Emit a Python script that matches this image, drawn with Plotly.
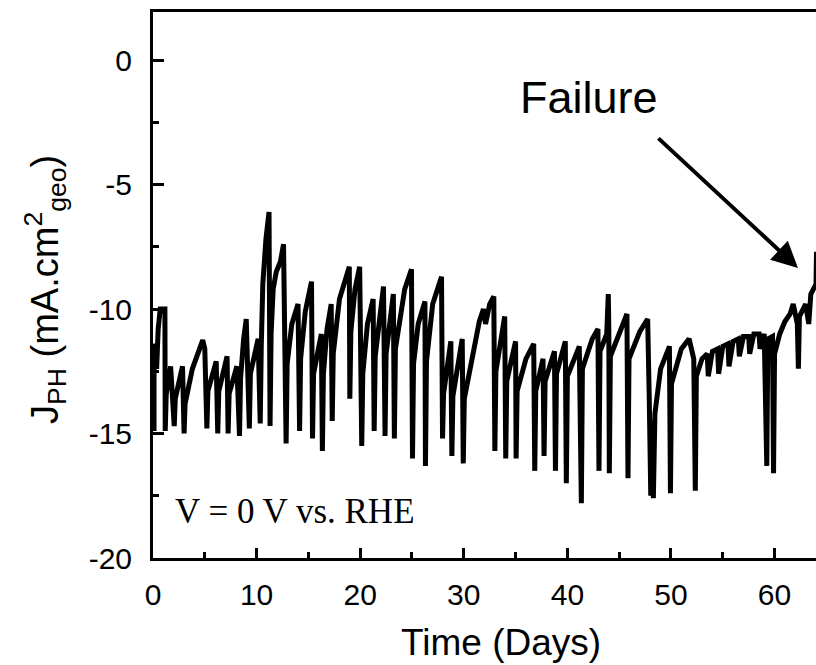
import plotly.graph_objects as go

# ---- data (time in days, photocurrent in mA/cm2) ----
time_days = [
    0.10, 0.10, 0.25, 0.35, 0.50, 0.70, 1.15, 1.18,
    1.28, 1.70, 2.05, 2.15, 2.85, 3.00,
    3.10, 3.80, 4.30, 4.80, 5.00, 5.20,
    5.30, 6.10, 6.25,
    6.35, 7.15, 7.25,
    7.35, 8.10, 8.35,
    8.45, 8.75, 9.00, 9.30,
    9.40, 10.15, 10.35,
    10.45, 10.60, 10.90, 11.20, 11.30,
    11.40, 11.60, 11.90, 12.30, 12.60, 12.85,
    12.95, 13.40, 14.00, 14.15,
    14.25, 14.70, 15.30, 15.40,
    15.50, 16.25, 16.35,
    16.45, 16.80, 17.20, 17.30,
    17.40, 18.00, 18.95, 19.00,
    19.10, 19.50, 19.95, 20.15,
    20.25, 20.70, 21.25, 21.35,
    21.45, 22.25, 22.40,
    22.50, 23.20, 23.30,
    23.40, 24.30, 24.95, 25.05,
    25.15, 25.60, 26.25, 26.30,
    26.40, 27.00, 27.85, 27.95,
    28.05, 28.75, 28.85,
    28.95, 29.85, 29.95,
    30.05, 30.80, 31.50, 31.90, 32.10, 32.50, 32.90, 33.00,
    33.10, 33.95, 34.05,
    34.15, 35.00, 35.05,
    35.15, 36.00, 36.75, 36.85,
    36.95, 37.65, 37.75,
    37.85, 38.75, 38.85,
    38.95, 39.80, 39.90,
    40.00, 41.15, 41.35,
    41.45, 42.40, 42.95, 43.05,
    43.15, 43.80, 43.95, 44.00, 44.05,
    44.15, 45.20, 45.75, 45.85,
    45.95, 47.00, 47.75, 47.90, 48.05, 48.15, 48.30,
    48.45, 49.00, 49.85, 49.95,
    50.05, 51.00, 51.75, 52.20, 52.35,
    52.45, 53.00, 53.50, 53.60, 54.00, 54.50, 54.60, 55.00, 55.50, 55.60,
    56.00, 56.50, 56.60, 57.00, 57.50, 57.60, 58.00, 58.50, 58.60, 59.00, 59.25,
    59.35, 59.80, 59.90,
    60.00, 60.50, 61.00, 61.50, 61.80, 62.20, 62.30, 62.40, 63.00, 63.30, 63.50, 64.00, 64.05,
]

j_ph = [
    -14.9, -12.0, -11.4, -12.4, -10.8, -10.0, -10.0, -14.9,
    -13.4, -12.3, -14.7, -13.6, -12.3, -15.0,
    -13.8, -12.4, -11.8, -11.25, -11.6, -14.8,
    -13.3, -12.1, -15.0,
    -13.3, -11.9, -15.0,
    -13.4, -12.3, -15.1,
    -12.8, -11.2, -10.4, -14.8,
    -12.6, -11.2, -14.6,
    -11.5, -9.0, -7.2, -6.1, -14.7,
    -11.0, -9.2, -8.5, -8.1, -7.4, -15.4,
    -12.2, -10.6, -9.8, -14.9,
    -12.0, -10.1, -8.9, -15.2,
    -12.6, -11.0, -15.7,
    -12.6, -10.8, -9.8, -14.5,
    -11.8, -9.6, -8.3, -13.6,
    -10.9, -9.2, -8.3, -15.5,
    -12.6, -10.6, -9.6, -14.9,
    -11.9, -9.1, -15.1,
    -11.8, -9.4, -15.2,
    -11.6, -9.2, -8.4, -16.0,
    -12.2, -10.6, -9.7, -16.3,
    -12.1, -9.8, -8.7, -15.2,
    -13.4, -11.3, -15.9,
    -13.5, -11.2, -16.2,
    -13.6, -12.0, -10.5, -10.0, -10.6, -9.8, -9.5, -15.7,
    -12.5, -10.3, -16.0,
    -12.9, -11.3, -16.0,
    -13.3, -12.0, -11.4, -16.5,
    -13.3, -12.0, -15.9,
    -12.9, -11.7, -16.5,
    -12.6, -11.3, -17.0,
    -12.7, -11.5, -17.8,
    -12.4, -11.2, -10.8, -16.5,
    -11.7, -11.0, -9.4, -10.8, -16.6,
    -11.9, -10.8, -10.2, -16.8,
    -12.0, -10.9, -10.4, -13.5, -17.5, -14.5, -17.6,
    -14.2, -12.4, -11.5, -17.4,
    -13.0, -11.6, -11.2, -12.0, -17.3,
    -12.7, -12.0, -11.8, -12.7, -11.7, -11.6, -12.6, -11.5, -11.4, -12.3,
    -11.3, -11.2, -11.9, -11.1, -11.1, -11.8, -11.0, -11.0, -11.6, -11.0, -16.3,
    -11.2, -11.1, -16.6,
    -11.8, -11.0, -10.5, -10.2, -9.8, -10.6, -12.4, -10.3, -9.8, -10.6, -9.4, -9.0, -7.7,
]

x_ticks = [0, 10, 20, 30, 40, 50, 60]
y_ticks = [-20, -15, -10, -5, 0]

fig = go.Figure()
fig.add_trace(go.Scatter(
    x=time_days, y=j_ph, mode="lines",
    line=dict(color="black", width=5),
    showlegend=False, hoverinfo="skip",
))

axis_font = dict(family="Liberation Sans, Arial, sans-serif", size=30, color="black")

fig.update_layout(
    width=816, height=665,
    margin=dict(l=153, r=0, t=12, b=107),
    paper_bgcolor="white", plot_bgcolor="white",
    showlegend=False,
    xaxis=dict(
        range=[0, 64.0], tickvals=x_ticks, ticktext=[str(v) for v in x_ticks],
        ticks="inside", ticklen=10, tickwidth=3, tickcolor="black",
        showline=True, linecolor="black", linewidth=3, mirror=True,
        showgrid=False, zeroline=False, tickfont=axis_font,
        ticklabelstandoff=8,
        minor=dict(ticks="inside", ticklen=6, tickwidth=3, tickcolor="black",
                   tick0=0, dtick=5, showgrid=False),
    ),
    yaxis=dict(
        range=[-20, 1.93], tickvals=y_ticks, ticktext=[str(v) for v in y_ticks],
        ticks="inside", ticklen=11, tickwidth=3, tickcolor="black",
        showline=True, linecolor="black", linewidth=3, mirror=False,
        showgrid=False, zeroline=False, tickfont=axis_font,
        ticklabelstandoff=12,
        minor=dict(ticks="inside", ticklen=6, tickwidth=3, tickcolor="black",
                   tick0=0, dtick=2.5, showgrid=False),
    ),
)

# axis titles
fig.add_annotation(
    text="Time (Days)", xref="paper", yref="paper",
    x=(501 - 153) / 663, y=-(642 - 558) / 546,
    xanchor="center", yanchor="middle", showarrow=False,
    font=dict(family="Liberation Sans, Arial, sans-serif", size=37, color="black"),
)
fig.add_annotation(
    text="J<sub>PH</sub> (mA.cm<sup>2</sup><sub>geo</sub>)",
    xref="paper", yref="paper",
    x=(45 - 153) / 663, y=(558 - 290) / 546,
    xanchor="center", yanchor="middle", showarrow=False, textangle=-90,
    font=dict(family="Liberation Sans, Arial, sans-serif", size=38, color="black"),
)

# in-plot text
fig.add_annotation(
    text="V = 0 V vs. RHE", xref="paper", yref="paper",
    x=(173 - 153) / 663, y=(558 - 511) / 546,
    xanchor="left", yanchor="middle", showarrow=False,
    font=dict(family="Liberation Serif, Times New Roman, serif", size=35, color="black"),
)
fig.add_annotation(
    text="Failure", xref="paper", yref="paper",
    x=(518 - 153) / 663, y=(558 - 97) / 546,
    xanchor="left", yanchor="middle", showarrow=False,
    font=dict(family="Liberation Sans, Arial, sans-serif", size=45, color="black"),
)
# arrow pointing to failure point
fig.add_annotation(
    text="", x=62.26, y=-8.35, xref="x", yref="y",
    showarrow=True, arrowhead=2, arrowsize=1.3, arrowwidth=4, arrowcolor="black",
    ax=-141, ay=-131, axref="pixel", ayref="pixel",
)

fig.write_html("out.html")
